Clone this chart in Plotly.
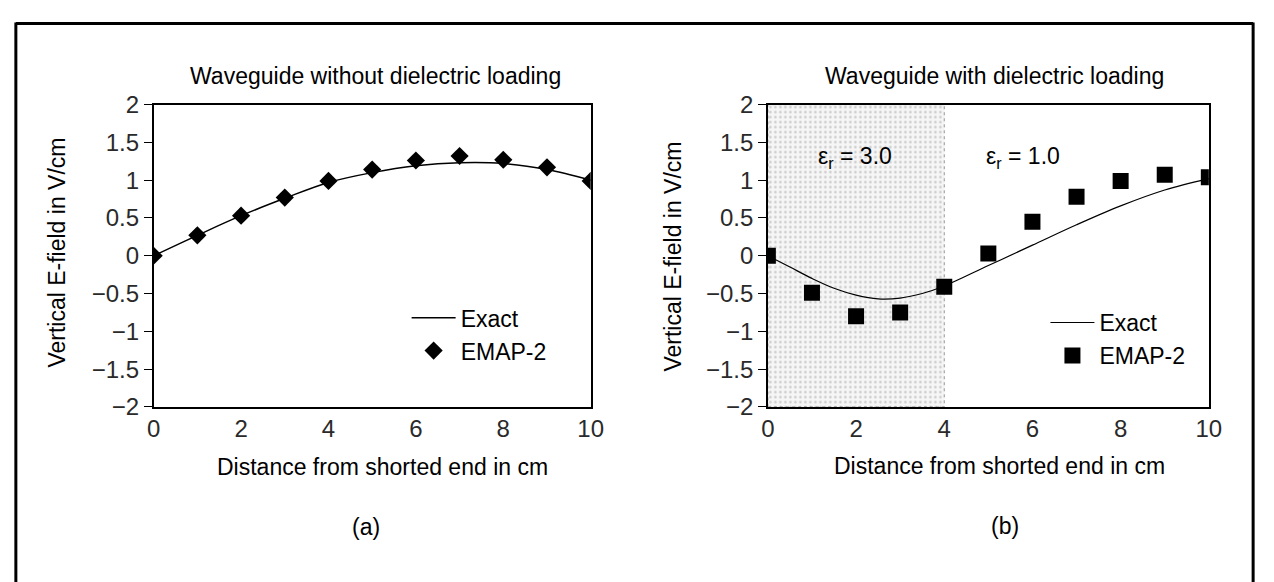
import plotly.graph_objects as go
from plotly.subplots import make_subplots

# ---------------- data ----------------
x_emap = [0, 1, 2, 3, 4, 5, 6, 7, 8, 9, 10]
emap_a = [0.0, 0.27, 0.53, 0.77, 0.99, 1.14, 1.26, 1.32, 1.27, 1.17, 0.99]
x_exact_a = [0, 1, 2, 3, 4, 5, 6, 7, 8, 9, 10]
exact_a = [0.0, 0.27, 0.53, 0.76, 0.97, 1.10, 1.19, 1.23, 1.22, 1.14, 1.0]

emap_b = [0.0, -0.49, -0.80, -0.75, -0.41, 0.03, 0.45, 0.78, 0.99, 1.07, 1.04]
x_exact_b = [0, 0.5, 1, 1.5, 2, 2.5, 3, 3.5, 4, 5, 6, 7, 8, 9, 10]
exact_b = [0.0, -0.15, -0.30, -0.43, -0.52, -0.57, -0.56, -0.50, -0.40, -0.13, 0.14, 0.41, 0.66, 0.87, 1.02]

dielectric_x = [0, 4]
y_range = [-2, 2]
x_range = [0, 10]
x_ticks = [0, 2, 4, 6, 8, 10]
y_ticks = [2, 1.5, 1, 0.5, 0, -0.5, -1, -1.5, -2]

W, H = 1274, 582
FONT = "Liberation Sans, Arial, sans-serif"


def px(v):
    return v / W


def py(v):
    return 1 - v / H


fig = make_subplots(rows=1, cols=2)

# shaded dielectric region (panel b)
fig.add_trace(go.Scatter(
    x=[dielectric_x[0], dielectric_x[1], dielectric_x[1], dielectric_x[0], dielectric_x[0]],
    y=[y_range[0], y_range[0], y_range[1], y_range[1], y_range[0]],
    fill="toself", mode="lines",
    line=dict(color="rgba(140,140,140,0.9)", width=1, dash="dot"),
    fillcolor="rgba(0,0,0,0)",
    fillpattern=dict(shape=".", fgcolor="#9a9a9a", bgcolor="#f6f6f6", size=5, solidity=0.2),
    showlegend=False, hoverinfo="skip"), row=1, col=2)

# panel a
fig.add_trace(go.Scatter(x=x_exact_a, y=exact_a, mode="lines", name="Exact",
                         line=dict(color="black", width=1.5, shape="spline"),
                         legend="legend"), row=1, col=1)
fig.add_trace(go.Scatter(x=x_emap, y=emap_a, mode="markers", name="EMAP-2",
                         marker=dict(symbol="diamond", size=14, color="black"),
                         legend="legend"), row=1, col=1)

# panel b
fig.add_trace(go.Scatter(x=x_exact_b, y=exact_b, mode="lines", name="Exact",
                         line=dict(color="black", width=1.2, shape="spline"),
                         legend="legend2"), row=1, col=2)
fig.add_trace(go.Scatter(x=x_emap, y=emap_b, mode="markers", name="EMAP-2",
                         marker=dict(symbol="square", size=16, color="black"),
                         legend="legend2"), row=1, col=2)

axis_common = dict(showgrid=False, zeroline=False, showline=True, linecolor="black",
                   linewidth=1.5, mirror=True)
tickfont = dict(family=FONT, size=24, color="#2a2a2a")

fig.update_xaxes(**axis_common, range=x_range, tickvals=x_ticks, ticks="",
                 tickfont=tickfont)
fig.update_yaxes(**axis_common, range=y_range, tickvals=y_ticks, ticks="outside",
                 ticklen=8, tickwidth=1.2, tickcolor="black", tickfont=tickfont)

fig.update_layout(
    xaxis=dict(domain=[px(149), px(593)]),
    xaxis2=dict(domain=[px(773), px(1221)]),
    yaxis=dict(domain=[py(412), py(95)]),
    yaxis2=dict(domain=[py(412), py(95)]),
)

txt = dict(family=FONT, size=23, color="black")
ann = [
    ("Waveguide without dielectric loading", 374, 65, 0),
    ("Waveguide with dielectric loading", 1003, 65, 0),
    ("Distance from shorted end in cm", 381, 475, 0),
    ("Distance from shorted end in cm", 1008, 474, 0),
    ("(a)", 365, 538, 0),
    ("(b)", 1014, 537, 0),
    ("Vertical E-field in V/cm", 51, 250, -90),
    ("Vertical E-field in V/cm", 677, 254, -90),
    ("ε<sub>r</sub> = 3.0", 862, 150, 0),
    ("ε<sub>r</sub> = 1.0", 1032, 150, 0),
]
for t, x, y, ang in ann:
    fig.add_annotation(text=t, x=px(x), y=py(y), xref="paper", yref="paper",
                       showarrow=False, textangle=ang, font=txt,
                       xanchor="center", yanchor="middle")

# outer frame: left, top and right sides (bottom edge lies outside the picture)
frame = dict(type="line", xref="paper", yref="paper", line=dict(color="black", width=3))
fig.add_shape(x0=px(9), x1=px(9), y0=py(620), y1=py(9), **frame)
fig.add_shape(x0=px(9), x1=px(1266), y0=py(10), y1=py(10), **frame)
fig.add_shape(x0=px(1266), x1=px(1266), y0=py(620), y1=py(9), **frame)

legend_style = dict(font=dict(family=FONT, size=23, color="black"),
                    bgcolor="rgba(0,0,0,0)", borderwidth=0, itemwidth=44,
                    xanchor="left", yanchor="top", tracegroupgap=0)
fig.update_layout(
    width=W, height=H, margin=dict(l=0, r=0, t=0, b=0),
    paper_bgcolor="white", plot_bgcolor="white",
    legend=dict(x=px(406), y=py(296), **legend_style),
    legend2=dict(x=px(1055), y=py(301), **legend_style),
)

fig.write_html("out.html", config={"displayModeBar": False},
               post_script="document.body.style.margin='0';document.body.style.padding='0';")
